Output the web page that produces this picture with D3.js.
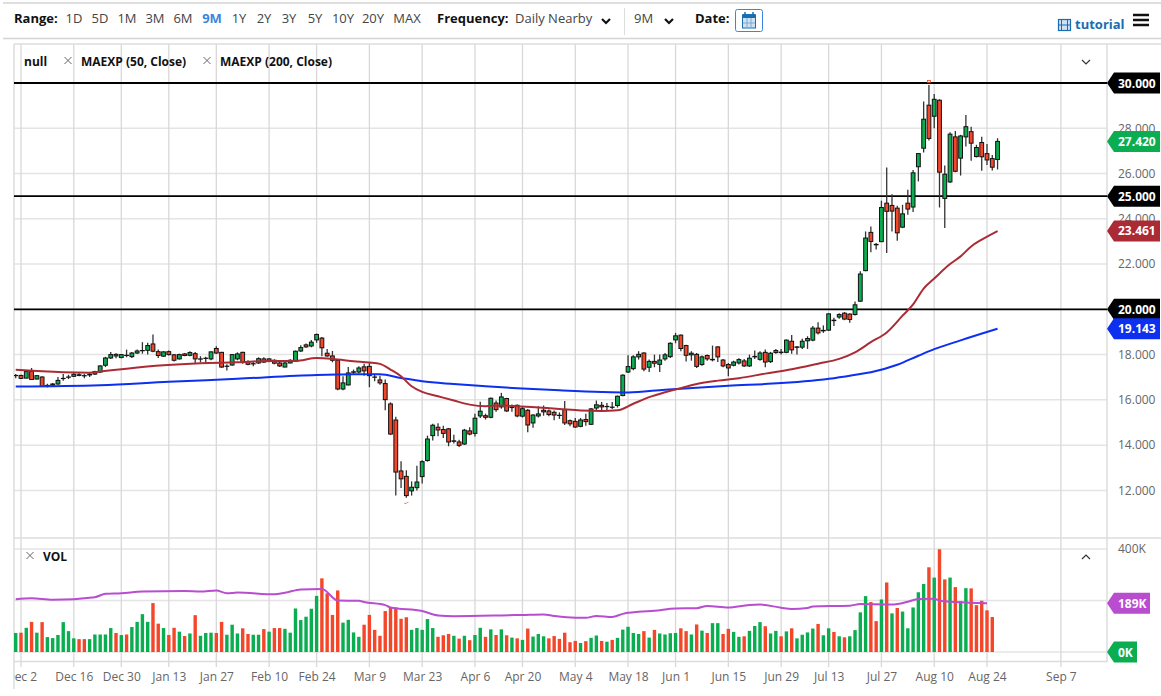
<!DOCTYPE html>
<html>
<head>
<meta charset="utf-8">
<title>chart</title>
<script src="https://cdn.jsdelivr.net/npm/d3@7"></script>
<style>
  html, body { margin: 0; background: #fff; }
  svg { display: block; font-family: "Open Sans", "Noto Sans", sans-serif; }
  .yaxis text, .xaxis text, .vaxis text { font-family: "Open Sans", "Noto Sans", sans-serif; font-size: 12px; fill: #666; }
  .yaxis .domain, .xaxis .domain, .vaxis .domain { display: none; }
  .bold { font-weight: 700; fill: #111; }
</style>
</head>
<body>
<script>
// candles run from bar -1 (the one left of Dec 2) up to bar 185
const opens = [
  17.08,17.08,16.96,17.26,16.92,17.01,16.63,16.65,16.70,16.94,
  17.00,17.04,17.08,17.06,17.10,17.14,17.23,17.53,17.85,17.94,
  17.87,17.96,17.91,18.07,18.17,18.19,18.47,18.13,17.93,18.13,
  17.99,17.81,18.03,17.97,18.04,17.80,17.83,17.81,18.27,18.10,
  17.48,17.54,17.81,18.10,17.69,17.59,17.63,17.81,17.72,17.75,
  17.63,17.45,17.63,17.73,18.16,18.43,18.38,18.65,18.73,18.06,
  17.94,17.75,16.48,16.66,17.22,17.23,17.46,17.48,17.00,16.88,
  16.72,15.82,15.11,12.86,12.62,11.98,12.12,12.61,13.32,14.42,
  14.79,14.69,14.72,14.17,14.14,14.05,14.63,14.52,15.29,15.30,
  15.23,15.86,15.69,16.06,15.66,15.76,15.28,15.54,14.98,15.29,
  15.54,15.51,15.45,15.31,15.57,15.08,15.05,14.83,15.13,14.92,
  15.64,15.76,15.70,15.67,15.75,16.19,17.23,17.38,17.90,18.07,
  17.44,17.70,17.57,17.81,17.91,18.65,18.86,18.40,17.99,18.01,
  17.56,17.96,17.77,18.34,17.76,17.56,17.53,17.63,17.72,17.50,
  17.90,17.79,18.10,17.69,18.09,18.09,18.10,18.59,18.32,18.33,
  18.61,18.64,19.17,19.05,19.08,19.50,19.66,19.83,19.79,19.77,
  20.36,21.71,23.40,22.85,22.99,24.69,24.59,24.47,23.63,24.69,
  24.52,26.30,27.12,29.02,28.53,29.24,24.90,25.63,27.62,26.68,
  27.62,27.85,26.75,27.37,26.88,26.66,26.62
];
const highs = [
  17.14,17.11,17.27,17.41,17.08,17.04,16.71,16.74,17.01,17.14,
  17.11,17.19,17.19,17.14,17.22,17.29,17.53,17.90,18.12,18.06,
  18.03,18.22,18.12,18.22,18.55,18.52,18.89,18.22,18.15,18.18,
  18.03,18.04,18.07,18.15,18.12,17.93,17.90,18.15,18.37,18.12,
  17.57,18.03,18.10,18.13,17.75,17.70,17.88,17.88,17.84,17.79,
  17.67,17.67,17.79,18.18,18.41,18.49,18.64,18.93,18.78,18.25,
  18.16,17.81,17.04,17.45,17.34,17.48,17.60,17.63,17.15,17.07,
  16.90,15.89,15.25,13.29,12.89,12.40,13.09,13.33,14.42,14.94,
  14.97,14.86,14.76,14.46,14.24,14.72,14.79,15.39,15.92,15.39,
  16.11,15.97,16.31,16.09,15.79,15.79,15.72,15.60,15.36,15.72,
  15.75,15.57,15.53,15.45,15.95,15.13,15.20,15.20,15.39,15.64,
  15.97,15.91,15.86,15.91,16.19,17.13,17.97,17.97,18.15,18.10,
  17.78,18.00,18.00,18.07,18.55,18.96,18.89,18.44,18.15,18.07,
  17.96,18.00,18.40,18.37,17.81,17.63,17.73,17.84,17.81,18.00,
  18.18,18.15,18.22,18.12,18.25,18.25,18.67,18.87,18.37,18.70,
  18.81,19.26,19.43,19.29,19.83,19.63,19.83,19.88,19.83,20.35,
  21.68,23.44,23.66,22.93,24.80,26.27,25.09,24.58,24.62,25.28,
  26.16,26.90,29.18,29.91,29.51,29.28,26.35,27.82,27.88,27.71,
  28.59,28.07,27.27,27.63,27.31,26.82,27.56
];
const lows = [
  16.96,16.92,16.95,16.89,16.90,16.58,16.55,16.62,16.67,16.85,
  16.92,17.01,17.04,16.95,17.01,17.10,17.19,17.45,17.81,17.84,
  17.84,17.88,17.85,18.03,18.04,18.00,18.10,17.85,17.90,17.96,
  17.70,17.78,17.93,17.93,17.63,17.66,17.60,17.75,18.03,17.41,
  17.30,17.51,17.75,17.60,17.53,17.48,17.59,17.63,17.66,17.57,
  17.45,17.44,17.62,17.70,18.12,18.30,18.33,18.52,17.93,17.90,
  17.66,16.42,16.42,16.63,17.12,17.16,17.07,16.56,16.82,16.67,
  15.54,14.45,11.77,12.11,11.67,11.77,12.00,12.30,13.27,14.21,
  14.39,14.32,13.95,14.07,13.92,14.01,14.44,14.38,15.20,15.13,
  15.19,15.48,15.61,15.47,15.48,15.23,15.22,14.57,14.77,15.22,
  15.30,15.28,15.10,15.16,14.89,14.83,14.77,14.79,14.86,14.89,
  15.50,15.54,15.54,15.60,15.66,16.16,17.19,17.31,17.78,17.26,
  17.23,17.44,17.23,17.73,17.85,18.50,18.15,17.70,17.73,17.41,
  17.51,17.73,17.70,17.67,17.44,17.04,17.48,17.56,17.45,17.45,
  17.81,17.73,17.44,17.63,18.04,18.00,18.06,18.04,18.00,18.25,
  18.25,18.59,18.89,18.96,19.05,19.26,19.58,19.52,19.41,19.73,
  20.33,21.68,22.52,22.64,22.97,22.49,23.44,23.03,23.59,24.18,
  24.30,25.65,26.93,27.46,28.00,24.50,23.59,25.58,26.06,25.91,
  27.19,26.56,26.71,26.12,26.38,26.13,26.18
];
const closes = [
  17.07,16.95,17.25,16.90,17.07,16.59,16.64,16.70,16.86,16.95,
  17.01,17.13,17.11,17.07,17.13,17.25,17.50,17.85,18.00,18.01,
  18.00,17.97,18.07,18.16,18.18,18.40,18.15,17.96,18.12,18.00,
  17.75,18.00,17.96,18.09,17.81,17.81,17.84,18.12,18.07,17.45,
  17.49,18.00,18.03,17.66,17.57,17.60,17.82,17.67,17.81,17.62,
  17.50,17.63,17.75,18.15,18.31,18.34,18.55,18.89,18.30,17.94,
  17.75,16.48,16.75,17.19,17.24,17.41,17.28,17.07,17.01,16.75,
  16.01,14.49,12.81,12.51,11.77,12.14,12.37,13.27,14.27,14.88,
  14.67,14.52,14.14,14.19,13.99,14.66,14.49,15.19,15.50,15.23,
  16.07,15.57,16.13,15.51,15.67,15.29,15.61,14.89,15.33,15.38,
  15.47,15.35,15.33,15.32,14.98,14.94,14.80,15.11,15.04,15.60,
  15.78,15.69,15.71,15.68,16.16,17.09,17.47,17.90,18.01,17.36,
  17.70,17.62,17.76,17.99,18.50,18.83,18.27,17.97,18.06,17.48,
  17.90,17.81,17.79,17.90,17.50,17.41,17.67,17.78,17.50,17.84,
  17.92,18.07,17.67,18.06,18.18,18.11,18.64,18.21,18.34,18.59,
  18.71,19.17,18.96,19.07,19.80,19.52,19.77,19.57,19.55,20.20,
  21.56,23.15,23.00,22.87,24.50,24.33,24.34,23.38,24.22,24.43,
  26.03,26.88,28.40,27.55,29.28,26.06,25.97,27.74,26.10,27.66,
  28.07,27.34,27.15,26.74,26.60,26.28,27.42
];

// volume in thousands, bar -1 up to bar 184 (the last candle has none yet)
const volumes = [
  74,75,94,117,75,116,58,54,66,116,
  81,53,50,50,50,68,68,68,93,74,
  66,68,97,117,147,117,190,110,93,66,
  94,79,62,72,143,63,74,75,74,117,
  67,106,72,92,70,67,67,89,79,93,
  93,90,75,169,124,137,168,218,286,228,
  144,239,114,125,76,59,106,144,86,63,
  159,174,173,129,135,86,93,86,128,93,
  59,65,70,63,52,63,46,66,94,59,
  88,66,88,65,56,53,47,91,60,70,
  61,53,62,51,75,38,43,35,42,55,
  64,43,40,47,55,87,98,74,70,81,
  56,86,72,68,73,74,92,81,68,107,
  83,74,112,112,70,90,78,59,61,82,
  101,116,100,72,82,61,80,92,53,67,
  76,91,109,65,92,78,61,57,61,85,
  154,217,194,120,204,270,150,171,157,92,
  173,232,264,329,289,399,282,289,252,198,
  248,247,182,199,162,136
];
const volumeUp = [
  1,0,1,0,1,0,1,1,1,1,
  1,1,0,0,1,1,1,1,1,0,
  1,0,1,1,1,1,0,0,1,0,
  0,1,0,1,0,1,1,1,0,0,
  1,1,1,0,0,1,1,0,1,0,
  0,1,1,1,1,1,1,1,0,0,
  0,0,1,1,1,1,0,0,0,0,
  0,0,0,0,0,1,1,1,1,1,
  0,0,0,1,0,1,0,1,1,0,
  1,0,1,0,1,0,1,0,1,1,
  1,0,0,0,0,0,0,1,0,1,
  1,0,1,0,1,1,1,1,1,0,
  1,0,1,1,1,1,0,0,1,0,
  1,0,1,1,0,0,1,1,0,1,
  1,1,0,1,1,0,1,0,1,1,
  1,1,0,1,1,0,1,0,1,1,
  1,1,0,0,1,0,1,0,1,1,
  1,1,1,0,1,0,0,1,0,1,
  1,0,0,0,0,0
];

// moving averages, read at the bars where they bend
const ma50Bars = [-1,4,8,13,15,20,27,34,41,47,52,56,60,63,66,68,70,72,74,76,79,82,85,88,91,94,98,102,106,110,113,116,119,122,125,128,132,136,141,146,151,155,158,161,164,167,169,171,173,176,178,180,182,185];
const ma50Values = [17.33,17.26,17.22,17.20,17.25,17.38,17.53,17.62,17.66,17.72,17.72,17.85,17.78,17.71,17.65,17.59,17.34,17.04,16.60,16.35,16.16,15.97,15.79,15.72,15.75,15.72,15.66,15.60,15.53,15.51,15.54,15.83,16.12,16.34,16.52,16.70,16.85,16.96,17.16,17.35,17.60,17.81,18.10,18.55,18.98,19.72,20.22,20.92,21.36,22.00,22.34,22.78,23.08,23.461];
const ma200Bars = [-1,15,28,41,56,60,63,68,72,76,82,88,94,102,110,115,122,134,144,154,159,161,166,170,173,178,185];
const ma200Values = [16.59,16.65,16.80,16.93,17.10,17.12,17.13,17.13,16.97,16.82,16.70,16.60,16.51,16.42,16.35,16.33,16.45,16.62,16.74,16.96,17.14,17.22,17.55,17.95,18.24,18.63,19.143];
const volMaBars = [-1,2,6,14,16,19,23,31,34,37,39,41,48,50,53,57,60,64,65,69,70,76,79,82,91,95,99,101,105,107,109,112,114,117,120,124,128,130,134,138,140,144,146,149,150,157,159,165,168,170,173,174,177,183];
const volMaValues = [205,209,203,213,226,228,235,237,235,239,228,231,224,230,243,245,200,199,194,182,173,159,142,139,142,144,146,140,133,133,140,136,148,156,160,169,170,179,173,183,184,172,167,171,177,180,186,184,195,206,207,199,194,189];

const tickBars = [0,10,19,28,37,47,56,66,76,86,95,105,115,124,134,144,153,163,173,183,197];
const tickLabels = ['Dec 2','Dec 16','Dec 30','Jan 13','Jan 27','Feb 10','Feb 24','Mar 9','Mar 23','Apr 6','Apr 20','May 4','May 18','Jun 1','Jun 15','Jun 29','Jul 13','Jul 27','Aug 10','Aug 24','Sep 7'];
const priceTicks = [12,14,16,18,20,22,24,26,28];
const levelLines = [30,25,20];
const rangeLabels = ['1D','5D','1M','3M','6M','9M','1Y','2Y','3Y','5Y','10Y','20Y','MAX'];

const GREEN = '#0aad4f', RED = '#f4472a';
const plotLeft = 14, plotRight = 1107;

const x = d3.scaleLinear().domain([0, 183]).range([21, 987]);
const y = d3.scaleLinear().domain([12, 30]).range([490.4, 83]);
const yVol = d3.scaleLinear().domain([0, 400]).range([652, 549]);

const svg = d3.select('body').append('svg')
  .attr('width', 1161)
  .attr('height', 696);

svg.append('clipPath').attr('id', 'plot')
  .append('rect').attr('x', plotLeft).attr('y', 0).attr('width', plotRight - plotLeft).attr('height', 696);

// toolbar
svg.append('line').attr('x1', 3).attr('x2', 1161).attr('y1', 3).attr('y2', 3).attr('stroke', '#d4d4d4').attr('stroke-width', 1.5);
svg.append('line').attr('x1', 3).attr('x2', 1161).attr('y1', 38.5).attr('y2', 38.5).attr('stroke', '#d4d4d4').attr('stroke-width', 1.5);

const toolbar = svg.append('g').attr('font-size', 13);
toolbar.append('text').attr('class', 'bold').attr('x', 14).attr('y', 23).text('Range:');
const rangeX = [74,100,127,155,183,212,239,264,289,315,343,373,407];
toolbar.selectAll('text.range')
  .data(rangeLabels).enter()
  .append('text')
  .attr('class', 'range')
  .attr('x', (d, i) => rangeX[i])
  .attr('y', 23)
  .attr('text-anchor', 'middle')
  .attr('fill', d => d === '9M' ? '#3b86dc' : '#444')
  .attr('font-weight', d => d === '9M' ? 700 : 400)
  .text(d => d);
toolbar.append('text').attr('class', 'bold').attr('x', 437).attr('y', 23).text('Frequency:');
toolbar.append('text').attr('x', 515).attr('y', 23).attr('fill', '#444').text('Daily Nearby');
toolbar.append('text').attr('x', 634).attr('y', 23).attr('fill', '#444').text('9M');
toolbar.append('text').attr('class', 'bold').attr('x', 695).attr('y', 23).text('Date:');

[606, 669].forEach(cx => {
  toolbar.append('path')
    .attr('d', `M${cx - 4},19 L${cx},23 L${cx + 4},19`)
    .attr('fill', 'none').attr('stroke', '#111').attr('stroke-width', 2.2);
});
toolbar.append('line').attr('x1', 624.5).attr('x2', 624.5).attr('y1', 8).attr('y2', 35).attr('stroke', '#ddd');

// calendar button
toolbar.append('rect').attr('x', 735.5).attr('y', 9.5).attr('width', 27).attr('height', 22).attr('rx', 2)
  .attr('fill', '#fff').attr('stroke', '#3b86dc');
toolbar.append('rect').attr('x', 742.5).attr('y', 15).attr('width', 13).attr('height', 13)
  .attr('fill', '#cfe2f3').attr('stroke', '#1b6cb0');
toolbar.append('rect').attr('x', 742.5).attr('y', 14).attr('width', 13).attr('height', 4).attr('fill', '#1b6cb0');
[745, 753].forEach(cx => {
  toolbar.append('line').attr('x1', cx).attr('x2', cx).attr('y1', 12).attr('y2', 17).attr('stroke', '#1b6cb0').attr('stroke-width', 1.5);
});
[747, 751].forEach(cx => {
  toolbar.append('line').attr('x1', cx).attr('x2', cx).attr('y1', 18).attr('y2', 28).attr('stroke', '#7fa9d0');
});
toolbar.append('line').attr('x1', 743).attr('x2', 755).attr('y1', 23).attr('y2', 23).attr('stroke', '#7fa9d0');

// tutorial link and menu
toolbar.append('rect').attr('x', 1058.5).attr('y', 19.5).attr('width', 12).attr('height', 11)
  .attr('fill', '#cfe2f3').attr('stroke', '#1b6cb0').attr('stroke-width', 1.2);
[1061.5, 1067.5].forEach(cx => {
  toolbar.append('line').attr('x1', cx).attr('x2', cx).attr('y1', 19).attr('y2', 31).attr('stroke', '#1b6cb0');
});
toolbar.append('line').attr('x1', 1058).attr('x2', 1071).attr('y1', 25).attr('y2', 25).attr('stroke', '#1b6cb0');
toolbar.append('text').attr('x', 1075).attr('y', 29).attr('font-weight', 700).attr('fill', '#1b6cb0').text('tutorial');
[15, 20, 25].forEach(my => {
  toolbar.append('line').attr('x1', 1133).attr('x2', 1149).attr('y1', my).attr('y2', my).attr('stroke', '#111').attr('stroke-width', 2.5);
});

// grid
const grid = svg.append('g');
grid.selectAll('line.hmain')
  .data(priceTicks).enter()
  .append('line').attr('class', 'hmain')
  .attr('x1', plotLeft).attr('x2', plotRight)
  .attr('y1', d => y(d)).attr('y2', d => y(d))
  .attr('stroke', '#e4e4e4').attr('stroke-width', 1.5);
grid.selectAll('line.hvol')
  .data([0, 200, 400]).enter()
  .append('line').attr('class', 'hvol')
  .attr('x1', plotLeft).attr('x2', plotRight)
  .attr('y1', d => yVol(d)).attr('y2', d => yVol(d))
  .attr('stroke', '#e4e4e4').attr('stroke-width', 1.5);
grid.selectAll('line.v')
  .data(tickBars).enter()
  .append('line').attr('class', 'v')
  .attr('x1', d => x(d)).attr('x2', d => x(d))
  .attr('y1', 44).attr('y2', 667)
  .attr('stroke', '#d8d8d8').attr('stroke-width', 1.3);

// panel frames
const frame = svg.append('g').attr('stroke', '#dcdcdc').attr('stroke-width', 1.5);
frame.append('line').attr('x1', plotLeft).attr('x2', 1161).attr('y1', 44).attr('y2', 44);
frame.append('line').attr('x1', plotLeft).attr('x2', 1161).attr('y1', 538).attr('y2', 538);
frame.append('line').attr('x1', plotLeft).attr('x2', plotRight).attr('y1', 661.5).attr('y2', 661.5);
frame.append('line').attr('x1', plotLeft).attr('x2', plotLeft).attr('y1', 44).attr('y2', 689);
frame.append('line').attr('x1', plotRight).attr('x2', plotRight).attr('y1', 44).attr('y2', 662);

// level lines
svg.selectAll('line.level')
  .data(levelLines).enter()
  .append('line').attr('class', 'level')
  .attr('x1', plotLeft).attr('x2', plotRight)
  .attr('y1', d => y(d)).attr('y2', d => y(d))
  .attr('stroke', '#000').attr('stroke-width', 1.8);

// volume bars
const volumeBars = svg.append('g').attr('clip-path', 'url(#plot)');
volumeBars.selectAll('rect')
  .data(volumes).enter()
  .append('rect')
  .attr('x', (d, i) => x(i - 1) - 1.7)
  .attr('y', d => yVol(d))
  .attr('width', 3.4)
  .attr('height', d => yVol(0) - yVol(d))
  .attr('fill', (d, i) => volumeUp[i] ? GREEN : RED);

// candles
const candles = svg.append('g').attr('clip-path', 'url(#plot)');
const enter = candles.selectAll('g')
  .data(closes).enter()
  .append('g');
enter.append('line')
  .attr('x1', (d, i) => x(i - 1)).attr('x2', (d, i) => x(i - 1))
  .attr('y1', (d, i) => y(highs[i])).attr('y2', (d, i) => y(lows[i]))
  .attr('stroke', '#333').attr('stroke-width', 1.3);
enter.append('rect')
  .attr('x', (d, i) => x(i - 1) - 1.9)
  .attr('y', (d, i) => y(Math.max(opens[i], closes[i])))
  .attr('width', 3.8)
  .attr('height', (d, i) => Math.abs(y(opens[i]) - y(closes[i])))
  .attr('fill', (d, i) => closes[i] >= opens[i] ? GREEN : RED)
  .attr('stroke', '#111').attr('stroke-width', 1);

// the little high and low flags
const hiBar = d3.maxIndex(highs), loBar = d3.minIndex(lows);
svg.append('rect').attr('x', x(hiBar - 1) - 1.5).attr('y', y(highs[hiBar]) - 4.5).attr('width', 3).attr('height', 2)
  .attr('fill', 'none').attr('stroke', '#f4472a').attr('stroke-width', 0.8);
svg.append('path')
  .attr('d', `M${x(loBar - 1) - 2},${y(lows[loBar]) + 5.5} h2 l1,-1 h1`)
  .attr('fill', 'none').attr('stroke', '#f4472a').attr('stroke-width', 0.8);

// moving averages
const curve = d3.line().curve(d3.curveMonotoneX);
const maPath = (bars, values, scale) => curve.x((d, i) => x(bars[i])).y(d => scale(d))(values);

svg.append('path').attr('d', maPath(ma200Bars, ma200Values, y))
  .attr('fill', 'none').attr('stroke', '#0c2ff0').attr('stroke-width', 2);
svg.append('path').attr('d', maPath(ma50Bars, ma50Values, y))
  .attr('fill', 'none').attr('stroke', '#ab2b35').attr('stroke-width', 2);
svg.append('path').attr('d', maPath(volMaBars, volMaValues, yVol))
  .attr('fill', 'none').attr('stroke', '#b84dcf').attr('stroke-width', 2);

// axes
svg.append('g')
  .attr('class', 'yaxis')
  .attr('transform', `translate(${plotRight},0)`)
  .call(d3.axisRight(y).tickValues(priceTicks).tickSize(0).tickPadding(11).tickFormat(d3.format('.3f')));
svg.append('g')
  .attr('class', 'vaxis')
  .attr('transform', `translate(${plotRight},0)`)
  .call(d3.axisRight(yVol).tickValues([400]).tickSize(0).tickPadding(11).tickFormat(d => d + 'K'));
svg.append('g')
  .attr('class', 'xaxis')
  .attr('clip-path', 'url(#plot)')
  .attr('transform', 'translate(0,667)')
  .call(d3.axisBottom(x).tickValues(tickBars).tickSize(0).tickPadding(5).tickFormat((d, i) => tickLabels[i]));

// value tags
const tags = [
  { value: 30, text: '30.000', color: '#000', scale: y, right: 1160 },
  { value: closes[closes.length - 1], text: '27.420', color: GREEN, scale: y, right: 1160 },
  { value: 25, text: '25.000', color: '#000', scale: y, right: 1160 },
  { value: ma50Values[ma50Values.length - 1], text: '23.461', color: '#ab2b35', scale: y, right: 1160 },
  { value: 20, text: '20.000', color: '#000', scale: y, right: 1160 },
  { value: ma200Values[ma200Values.length - 1], text: '19.143', color: '#0c2ff0', scale: y, right: 1160 },
  { value: volMaValues[volMaValues.length - 1], text: '189K', color: '#b84dcf', scale: yVol, right: 1150 },
  { value: 0, text: '0K', color: GREEN, scale: yVol, right: 1137 }
];
const tag = svg.selectAll('g.tag').data(tags).enter().append('g').attr('class', 'tag');
tag.append('path')
  .attr('d', d => {
    const c = d.scale(d.value);
    return `M${plotRight},${c} L${plotRight + 7},${c - 10.5} H${d.right} V${c + 10.5} H${plotRight + 7} Z`;
  })
  .attr('fill', d => d.color);
tag.append('text')
  .attr('x', 1118)
  .attr('y', d => d.scale(d.value) + 4.5)
  .attr('font-size', 12)
  .attr('font-weight', 700)
  .attr('fill', '#fff')
  .text(d => d.text);

// legends
const legend = svg.append('g').attr('font-size', 12);
legend.append('text').attr('class', 'bold').attr('x', 24).attr('y', 66).text('null');
legend.append('text').attr('class', 'bold').attr('x', 81).attr('y', 66).text('MAEXP (50, Close)');
legend.append('text').attr('class', 'bold').attr('x', 220).attr('y', 66).text('MAEXP (200, Close)');
legend.append('text').attr('class', 'bold').attr('x', 43).attr('y', 561).text('VOL');
[[68, 60.5], [207, 60.5], [30, 555.5]].forEach(([cx, cy]) => {
  legend.append('path')
    .attr('d', `M${cx - 3.5},${cy - 3.5} L${cx + 3.5},${cy + 3.5} M${cx + 3.5},${cy - 3.5} L${cx - 3.5},${cy + 3.5}`)
    .attr('stroke', '#666').attr('fill', 'none');
});
legend.append('path').attr('d', 'M1082,60 L1086,64 L1090,60').attr('stroke', '#333').attr('fill', 'none').attr('stroke-width', 1.2);
legend.append('path').attr('d', 'M1082,559 L1086,555 L1090,559').attr('stroke', '#333').attr('fill', 'none').attr('stroke-width', 1.2);
</script>
</body>
</html>
